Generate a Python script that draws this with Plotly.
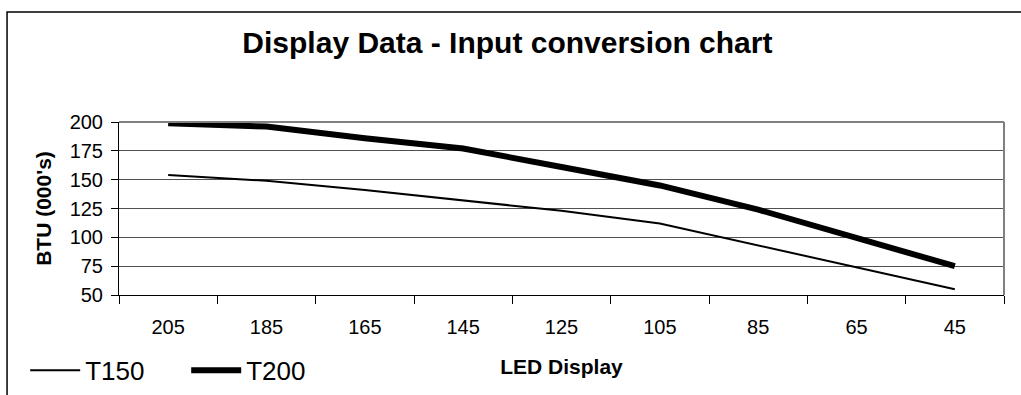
import plotly.graph_objects as go

# LED display readings (category axis, shown high to low)
led_display = ["205", "185", "165", "145", "125", "105", "85", "65", "45"]

# BTU input (000's) per model
t150 = [154, 149, 141, 132, 123, 112, 93, 74, 55]
t200 = [199, 196, 186, 177, 161, 145, 124, 100, 75]

y_ticks = [50, 75, 100, 125, 150, 175, 200]

FONT = "Liberation Sans, Arial, sans-serif"

fig = go.Figure()
fig.add_trace(go.Scatter(x=led_display, y=t150, mode="lines", name="T150",
                         line=dict(color="black", width=2)))
fig.add_trace(go.Scatter(x=led_display, y=t200, mode="lines", name="T200",
                         line=dict(color="black", width=6)))

fig.update_layout(
    width=1021, height=395,
    margin=dict(l=119, r=17, t=122, b=100, autoexpand=False),
    paper_bgcolor="white", plot_bgcolor="white",
    font=dict(family=FONT, color="black", size=20),
    title=dict(text="<b>Display Data - Input conversion chart</b>",
               font=dict(size=30), x=0.497, xanchor="center",
               y=0.893, yanchor="middle"),
    showlegend=True,
    legend=dict(orientation="h", x=-0.106, xanchor="left", y=-0.435, yanchor="middle",
                font=dict(size=26), entrywidth=96, entrywidthmode="pixels",
                itemwidth=50, bgcolor="rgba(0,0,0,0)", itemsizing="trace"),
)

fig.update_xaxes(
    type="category", range=[-0.5, len(led_display) - 0.5],
    tickson="boundaries", ticks="outside", ticklen=8, tickcolor="black",
    showgrid=False, showline=True, linecolor="black", linewidth=1,
    tickfont=dict(size=20), ticklabelstandoff=14,
    title=dict(text="<b>LED Display</b>", font=dict(size=21), standoff=22),
    zeroline=False,
)
fig.update_yaxes(
    range=[50, 200], tickvals=y_ticks, ticks="outside", ticklen=7, tickcolor="black",
    showgrid=True, gridcolor="#505050", gridwidth=1,
    showline=True, linecolor="black", linewidth=1,
    tickfont=dict(size=20), ticklabelstandoff=4,
    title=dict(text="<b>BTU (000's)</b>", font=dict(size=21), standoff=12),
    zeroline=False,
)

# plot area border: grey top and right edges
fig.add_shape(type="line", xref="x domain", yref="y domain", x0=0, x1=1, y0=1, y1=1,
              line=dict(color="#808080", width=2), layer="above")
fig.add_shape(type="line", xref="x domain", yref="y domain", x0=1, x1=1, y0=0, y1=1,
              line=dict(color="#808080", width=2), layer="above")

# outer chart frame (cropped on the right and bottom)
fig.add_shape(type="rect", xref="paper", yref="paper", x0=-0.1265, x1=1.2, y0=-0.8, y1=1.636,
              line=dict(color="black", width=1.5), fillcolor="rgba(0,0,0,0)")

fig.write_html("out.html", config={"displayModeBar": False},
               post_script="document.body.style.margin='0';")
